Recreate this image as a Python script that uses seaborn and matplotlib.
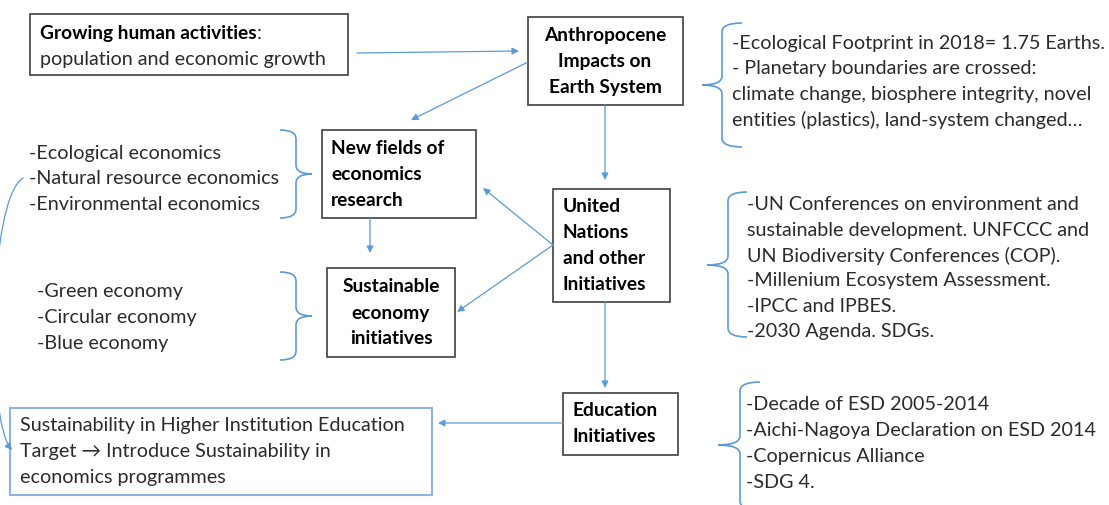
import matplotlib
matplotlib.use('Agg')
import matplotlib.pyplot as plt
import seaborn as sns
from matplotlib.patches import Rectangle, FancyArrowPatch, PathPatch
from matplotlib.path import Path

# ---- text content ----
growing_title = "Growing human activities"
growing_sub = "population and economic growth"
anthropocene_lines = ["Anthropocene", "Impacts on", "Earth System"]
footprint_notes = ["-Ecological Footprint in 2018= 1.75 Earths.",
                   "- Planetary boundaries are crossed:",
                   "climate change, biosphere integrity, novel",
                   "entities (plastics), land-system changed\u2026"]
new_fields_lines = ["New fields of", "economics", "research"]
econ_fields = ["-Ecological economics", "-Natural resource economics", "-Environmental economics"]
sustainable_lines = ["Sustainable", "economy", "initiatives"]
economy_types = ["-Green economy", "-Circular economy", "-Blue economy"]
un_lines = ["United", "Nations", "and other", "Initiatives"]
un_notes = ["-UN Conferences on environment and",
            "sustainable development. UNFCCC and",
            "UN Biodiversity Conferences (COP).",
            "-Millenium Ecosystem Assessment.",
            "-IPCC and IPBES.",
            "-2030 Agenda. SDGs."]
education_lines = ["Education", "Initiatives"]
education_notes = ["-Decade of ESD 2005-2014",
                   "-Aichi-Nagoya Declaration on ESD 2014",
                   "-Copernicus Alliance",
                   "-SDG 4."]
hei_lines = ["Sustainability in Higher Institution Education",
             "Target \u2192 Introduce Sustainability in",
             "economics programmes"]

# ---- layout (pixel coords, y down) ----
boxes = {
    'growing': (30, 14, 348, 75),
    'anthro': (528, 17, 683, 105),
    'newfields': (322, 130, 476, 218),
    'sustain': (327, 268, 455, 357),
    'un': (553, 189, 670, 302),
    'edu': (563, 393, 678, 455),
}
hei_box = (10, 408, 432, 495)

BLUE = '#5B9BD5'
EDGE = '#404040'
TXT = '#2b2b2b'
FS = 14.2
BFS = 13.8

sns.set_style('white')
plt.rcParams['font.family'] = ['Lato', 'DejaVu Sans']

fig = plt.figure(figsize=(11.09, 5.05), dpi=100)
ax = fig.add_axes([0, 0, 1, 1])
ax.set_xlim(0, 1109)
ax.set_ylim(505, 0)
ax.axis('off')

for name, (x0, y0, x1, y1) in boxes.items():
    ax.add_patch(Rectangle((x0, y0), x1 - x0, y1 - y0, fill=False, ec=EDGE, lw=1.2))
x0, y0, x1, y1 = hei_box
ax.add_patch(Rectangle((x0, y0), x1 - x0, y1 - y0, fill=False, ec='#8FB3DC', lw=1.5))


def lines(texts, x, y, step=26, ha='left', bold=False, color=TXT):
    for i, t in enumerate(texts):
        ax.text(x, y + i * step, t, ha=ha, va='center',
                fontsize=BFS if bold else FS,
                fontweight='bold' if bold else 'normal', color=color)


# box texts
t = ax.text(40, 34, growing_title, ha='left', va='baseline', fontsize=BFS,
            fontweight='bold', color='black')
t.set_y(39)
renderer = fig.canvas.get_renderer()
bb = t.get_window_extent(renderer)
xend = ax.transData.inverted().transform((bb.x1, bb.y0))[0]
ax.text(xend, 39, ':', ha='left', va='baseline', fontsize=FS, color=TXT)
ax.text(40, 60, growing_sub, ha='left', va='center', fontsize=FS, color=TXT)
lines(anthropocene_lines, 605, 35, ha='center', bold=True, color='black')
lines(new_fields_lines, 331, 149, bold=True, color='black')
lines(sustainable_lines, 391, 287, ha='center', bold=True, color='black')
lines(un_lines, 563, 206, bold=True, color='black')
lines(education_lines, 572, 411, bold=True, color='black')
lines(hei_lines, 20, 425)

# side notes
lines(footprint_notes, 732, 43, step=25.7)
lines(econ_fields, 29, 153)
lines(economy_types, 37, 292)
lines(un_notes, 747, 205, step=25.3)
lines(education_notes, 746, 405, step=25.7)


def brace(xv, xa, xt, yt, yb, ym, r=9):
    verts = [(xa, yt), (xv, yt), (xv, yt + r),
             (xv, ym - r), (xv, ym), (xt, ym),
             (xv, ym), (xv, ym + r),
             (xv, yb - r), (xv, yb), (xa, yb)]
    codes = [Path.MOVETO, Path.CURVE3, Path.CURVE3,
             Path.LINETO, Path.CURVE3, Path.CURVE3,
             Path.CURVE3, Path.CURVE3,
             Path.LINETO, Path.CURVE3, Path.CURVE3]
    ax.add_patch(PathPatch(Path(verts, codes), fill=False, ec=BLUE, lw=1.2))


brace(722, 742, 702, 23, 147, 85)
brace(728, 747, 707, 192, 337, 265)
brace(740, 760, 718, 382, 510, 445)
brace(296, 280, 312, 130, 218, 174)
brace(296, 280, 312, 272, 360, 316)

arrows = [((357, 53), (519, 51)),
          ((528, 62), (411, 120)),
          ((605, 105), (605, 180)),
          ((553, 245), (483, 188)),
          ((553, 245), (457, 312)),
          ((370, 218), (370, 253)),
          ((605, 302), (605, 388)),
          ((563, 423), (438, 423))]
for s, e in arrows:
    ax.add_patch(FancyArrowPatch(s, e, arrowstyle='-|>', mutation_scale=10,
                                 color=BLUE, lw=0.9, shrinkA=0, shrinkB=0))

# curved link from the economics list to the HEI box
curve = Path([(23, 178), (-12, 200), (-14, 420), (12, 450)],
             [Path.MOVETO, Path.CURVE4, Path.CURVE4, Path.CURVE4])
ax.add_patch(FancyArrowPatch(path=curve, arrowstyle='-|>', mutation_scale=10,
                             color=BLUE, lw=0.9, clip_on=False))

fig.savefig('out.png', dpi=100)
